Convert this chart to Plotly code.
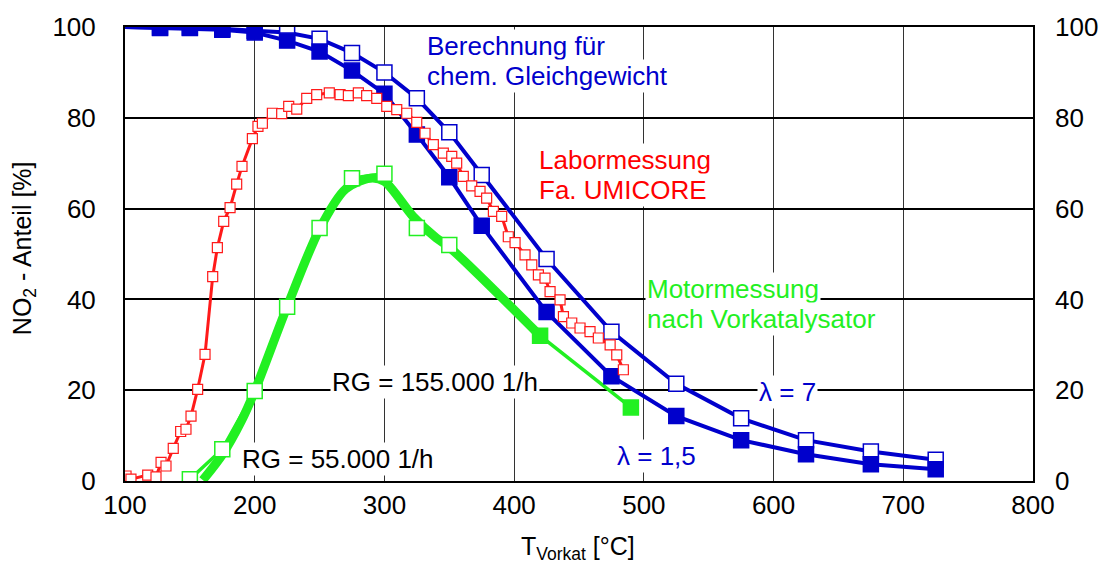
import plotly.graph_objects as go

FONT = "Liberation Sans, Arial, Helvetica, sans-serif"
BLUE = "#0000CC"
RED = "#FF1A1A"
GREEN = "#22F022"

# ---- data ----
T_calc = [100, 127, 150, 175, 200, 225, 250, 275, 300, 325, 350, 375, 425, 475, 525, 575, 625, 675, 725]
no2_lam15 = [100, 99.8, 99.8, 99.4, 98.8, 97.0, 94.6, 90.4, 85.3, 76.3, 66.9, 56.2, 37.2, 23.1, 14.3, 9.0, 5.9, 3.7, 2.6]
no2_lam7 = [100, 99.9, 99.9, 99.6, 99.2, 98.8, 97.4, 94.3, 90.0, 84.3, 76.8, 67.4, 48.9, 32.9, 21.4, 13.8, 9.0, 6.5, 4.7]

T_lab = [100.8, 104.6, 117.5, 123.9, 127.8, 131.6, 137.2, 142.9, 147.0, 150.9, 156.0, 161.7, 167.6, 171.2,
         176.1, 181.0, 186.1, 190.2, 198.2, 202.5, 205.9, 213.6, 220.8, 226.2, 232.4, 240.1, 247.8, 257.5,
         265.8, 272.2, 279.9, 286.3, 294.1, 301.8, 309.5, 317.2, 324.9, 331.3, 337.7, 345.4, 351.9, 355.7,
         360.8, 367.3, 373.7, 378.8, 384.0, 390.4, 395.5, 400.7, 408.4, 413.6, 418.7, 423.8, 427.7, 435.4,
         438.0, 444.4, 450.8, 458.5, 464.9, 474.0, 479.1, 484.2]
no2_lab = [1.1, 0.4, 1.3, 0.9, 4.1, 3.3, 7.2, 10.9, 11.4, 14.3, 20.2, 27.9, 45.0, 51.4,
           57.2, 60.2, 65.4, 69.3, 75.4, 78.1, 78.8, 81.0, 80.9, 82.5, 81.9, 84.3, 85.1, 85.5,
           85.1, 84.9, 85.5, 84.9, 84.3, 82.5, 81.8, 81.0, 79.0, 76.6, 74.1, 72.2, 71.5, 70.0,
           67.1, 65.0, 63.8, 62.3, 59.4, 58.3, 53.8, 52.5, 49.8, 47.6, 45.4, 44.7, 41.7, 39.9,
           36.2, 34.8, 33.7, 32.9, 31.5, 30.0, 27.8, 24.5]

T_motor = [150, 175, 200, 225, 250, 275, 300, 325, 350, 420, 490]
no2_motor = [0.4, 7.0, 19.8, 38.4, 55.7, 66.7, 67.7, 55.7, 52.0, 32.0, 16.2]
motor_filled = [False] * 9 + [True] * 2

T_motor_fit = [160, 175, 190, 200, 225, 250, 270, 289, 300, 322, 340, 350, 420]
no2_motor_fit = [0.2, 5.8, 13.4, 19.8, 38.4, 55.5, 64.3, 66.7, 66.0, 58.3, 53.5, 51.5, 32.0]

x_ticks = [100, 200, 300, 400, 500, 600, 700, 800]
y_ticks = [0, 20, 40, 60, 80, 100]

fig = go.Figure()

# green thick curve
fig.add_trace(go.Scatter(x=T_motor_fit, y=no2_motor_fit, mode="lines",
                         line=dict(color=GREEN, width=9, shape="spline", smoothing=0.8),
                         showlegend=False, hoverinfo="skip"))
# green measured points
fig.add_trace(go.Scatter(x=T_motor, y=no2_motor, mode="lines+markers",
                         line=dict(color=GREEN, width=3.5),
                         marker=dict(symbol="square", size=15, opacity=1,
                                     color=[GREEN if f else "white" for f in motor_filled],
                                     line=dict(color=GREEN, width=1.5)),
                         showlegend=False))
# blue lambda = 7 (open)
fig.add_trace(go.Scatter(x=T_calc, y=no2_lam7, mode="lines+markers",
                         line=dict(color=BLUE, width=4),
                         marker=dict(symbol="square", size=[0] + [15] * (len(T_calc) - 1), opacity=1,
                                     color="white", line=dict(color=BLUE, width=1.5)),
                         showlegend=False))
# blue lambda = 1.5 (filled)
fig.add_trace(go.Scatter(x=T_calc, y=no2_lam15, mode="lines+markers",
                         line=dict(color=BLUE, width=4),
                         marker=dict(symbol="square", size=[0] + [15] * (len(T_calc) - 1), opacity=1,
                                     color=BLUE, line=dict(color=BLUE, width=1.5)),
                         showlegend=False))
# red lab measurement
fig.add_trace(go.Scatter(x=T_lab, y=no2_lab, mode="lines+markers",
                         line=dict(color=RED, width=3),
                         marker=dict(symbol="square", size=10, color="white", opacity=1,
                                     line=dict(color=RED, width=1.2)),
                         showlegend=False))
# invisible trace for right axis
fig.add_trace(go.Scatter(x=[100], y=[0], yaxis="y2", mode="markers",
                         marker=dict(opacity=0), showlegend=False, hoverinfo="skip"))

tickfont = dict(family=FONT, size=26, color="black")

fig.update_layout(
    width=1104, height=564,
    margin=dict(l=125, r=71, t=27, b=83, pad=0),
    paper_bgcolor="white", plot_bgcolor="white",
    xaxis=dict(range=[100, 800], tickvals=x_ticks, ticktext=[str(v) for v in x_ticks],
               showgrid=True, gridcolor="#333333", gridwidth=1.2,
               showline=True, linecolor="black", linewidth=2, mirror=True,
               ticks="", zeroline=False, tickfont=tickfont, automargin=False,
               ticklabelstandoff=0),
    yaxis=dict(range=[0, 100], tickvals=y_ticks, ticktext=[str(v) for v in y_ticks],
               showgrid=True, gridcolor="black", gridwidth=1.8,
               showline=True, linecolor="black", linewidth=2, mirror=True,
               ticks="", zeroline=False, tickfont=tickfont, automargin=False,
               ticklabelstandoff=22),
    yaxis2=dict(range=[0, 100], tickvals=y_ticks, ticktext=[str(v) for v in y_ticks],
                overlaying="y", side="right", showgrid=False, zeroline=False,
                showline=False, ticks="", tickfont=tickfont, automargin=False,
                ticklabelstandoff=21),
)

def label(text, x, y, color):
    fig.add_annotation(x=x, y=y, xref="x", yref="y", text=text, showarrow=False,
                       xanchor="left", yanchor="middle", bgcolor="white", borderpad=1,
                       font=dict(family=FONT, size=26, color=color))

label("Berechnung für", 331.3, 95.8, BLUE)
label("chem. Gleichgewicht", 331.3, 89.2, BLUE)
label("Labormessung", 417.6, 70.7, "#FF0000")
label("Fa. UMICORE", 417.6, 64.1, "#FF0000")
label("Motormessung", 500.9, 42.3, GREEN)
label("nach Vorkatalysator", 500.9, 35.7, GREEN)
label("RG = 155.000 1/h", 258.0, 21.8, "black")
label("RG = 55.000 1/h", 188.7, 4.8, "black")
label("λ = 7", 587.2, 19.6, BLUE)
label("λ = 1,5", 477.8, 5.5, BLUE)

fig.add_annotation(x=-0.1112, y=0.513, xref="paper", yref="paper",
                   text="NO<sub>2</sub> - Anteil [%]", textangle=-90, showarrow=False,
                   xanchor="center", yanchor="middle",
                   font=dict(family=FONT, size=25, color="black"))
fig.add_annotation(x=0.4989, y=-0.148, xref="paper", yref="paper",
                   text="T<sub>Vorkat</sub> [°C]", showarrow=False,
                   xanchor="center", yanchor="middle",
                   font=dict(family=FONT, size=25, color="black"))

fig.write_html("out.html")
